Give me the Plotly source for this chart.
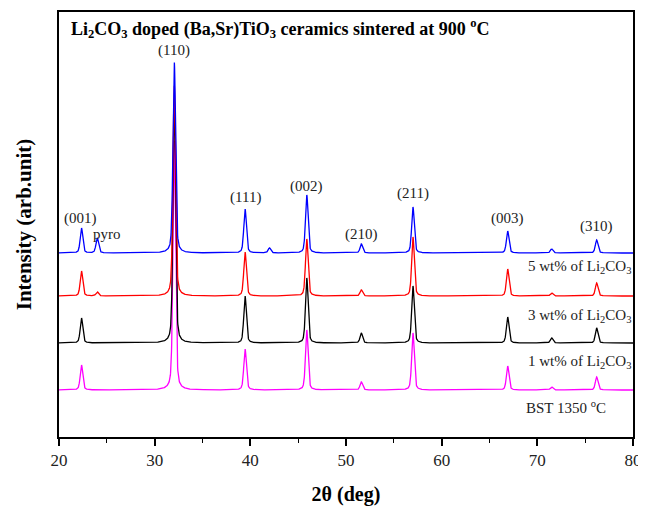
import numpy as np
import plotly.graph_objects as go

# ---- data ----
peak_pos = [22.35, 24.0, 32.05, 39.45, 42.0, 45.9, 51.6, 57.0, 66.9, 71.5, 76.2]
series_names = ["BST 1350 °C", "1 wt% of Li2CO3", "3 wt% of Li2CO3", "5 wt% of Li2CO3"]
series_colors = ["#FF00FF", "#000000", "#FF0000", "#0000FF"]
series_offsets = [47, 94, 141, 184]
heights_bst = [25, 0, 250, 41, 0, 60, 8, 57, 24, 3, 13]
heights_1wt = [25, 0, 240, 47, 0, 65, 10, 57, 26, 5, 15]
heights_3wt = [25, 4, 211, 44, 0, 57, 6, 59, 27, 3, 13]
heights_5wt = [25, 15, 191, 44, 5, 58, 9, 46, 22, 4, 13]
series_heights = [heights_bst, heights_1wt, heights_3wt, heights_5wt]

hkl_labels = ["(001)", "pyro", "(110)", "(111)", "(002)", "(210)", "(211)", "(003)", "(310)"]
hkl_x = [22.2, 25.0, 32.05, 39.45, 45.9, 51.6, 57.0, 66.9, 76.2]
hkl_y = [219, 203, 387, 240, 251, 203, 244, 219, 211]

x_ticks = [20, 30, 40, 50, 60, 70, 80]

# ---- build profiles ----
x = np.arange(20.0, 80.0001, 0.02)
FONT = "Liberation Serif"

fig = go.Figure()
for name, col, off, hs in zip(series_names, series_colors, series_offsets, series_heights):
    y = np.full_like(x, float(off))
    for c, h in zip(peak_pos, hs):
        if h <= 0:
            continue
        w = 0.16
        lor = 1.0 / (1.0 + ((x - c) / w) ** 2)
        gau = np.exp(-np.log(2) * ((x - c) / w) ** 2)
        y += h * (0.6 * gau + 0.4 * lor)
    fig.add_trace(go.Scatter(x=x, y=y, mode="lines", name=name,
                             line=dict(color=col, width=1.3), showlegend=False))

for t, xx, yy in zip(hkl_labels, hkl_x, hkl_y):
    fig.add_annotation(x=xx, y=yy, text=t, showarrow=False,
                       font=dict(family=FONT, size=15, color="#222"))

right_labels = ["BST 1350 <sup>o</sup>C", "1 wt% of Li<sub>2</sub>CO<sub>3</sub>",
                "3 wt% of Li<sub>2</sub>CO<sub>3</sub>", "5 wt% of Li<sub>2</sub>CO<sub>3</sub>"]
right_y = [30, 75, 121, 170]
right_xp = [0.957, 1.0, 1.0, 1.0]
for t, xx, yy in zip(right_labels, right_xp, right_y):
    fig.add_annotation(x=xx, xref="paper", y=yy, text=t, showarrow=False, xanchor="right",
                       font=dict(family=FONT, size=15, color="#222"))

fig.add_annotation(x=0.018, xref="paper", y=409, xanchor="left", showarrow=False,
                   text="<b>Li<sub>2</sub>CO<sub>3</sub> doped (Ba,Sr)TiO<sub>3</sub> ceramics sintered at 900 <sup>o</sup>C</b>",
                   font=dict(family=FONT, size=18, color="#000"))

# page body has an 8px margin: compensate so the plot box lands where the reference has it
fig.update_layout(
    width=638, height=499,
    margin=dict(l=51, r=13, t=4, b=70, autoexpand=False),
    paper_bgcolor="white", plot_bgcolor="white",
    font=dict(family=FONT, color="#000"),
    xaxis=dict(range=[20, 80], tickvals=x_ticks, ticks="outside", ticklen=7, tickwidth=1.5,
               tickcolor="#000", showgrid=False, zeroline=False, automargin=False,
               showline=True, linecolor="#000", linewidth=2, mirror=True,
               tickfont=dict(family=FONT, size=17, color="#222"),
               minor=dict(dtick=5, tick0=20, ticks="outside", ticklen=4, tickwidth=1.2, tickcolor="#000"),
               title=dict(text="<b>2θ (deg)</b>", font=dict(family=FONT, size=20), standoff=18)),
    yaxis=dict(range=[0, 425], showticklabels=False, ticks="", showgrid=False, zeroline=False,
               automargin=False,
               showline=True, linecolor="#000", linewidth=2, mirror=True,
               title=dict(text="<b>Intensity (arb.unit)</b>", font=dict(family=FONT, size=21), standoff=20)),
)

fig.write_html("out.html")
